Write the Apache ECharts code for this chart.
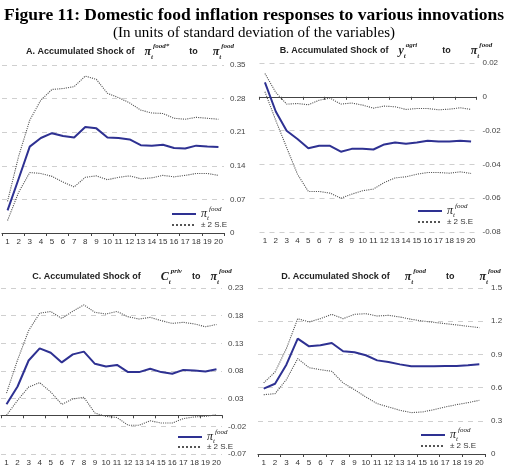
<!DOCTYPE html>
<html>
<head>
<meta charset="utf-8">
<script src="https://cdn.jsdelivr.net/npm/echarts@6/dist/echarts.min.js"></script>
<style>
  html, body { margin: 0; padding: 0; background: #fff; }
  #chart { width: 508px; height: 476px; }
</style>
</head>
<body>
<div id="chart"></div>
<script>
  // horizon 1..20
  const periods = ['1', '2', '3', '4', '5', '6', '7', '8', '9', '10', '11', '12', '13', '14', '15', '16', '17', '18', '19', '20']

  // A. shock of world food inflation
  const aMain = [0.047, 0.113, 0.180, 0.198, 0.208, 0.202, 0.199, 0.221, 0.218, 0.199, 0.198, 0.195, 0.183, 0.182, 0.184, 0.177, 0.176, 0.182, 0.180, 0.179]
  const aUpper = [0.066, 0.160, 0.235, 0.277, 0.299, 0.301, 0.305, 0.327, 0.320, 0.291, 0.282, 0.271, 0.256, 0.250, 0.249, 0.239, 0.237, 0.241, 0.239, 0.237]
  const aLower = [0.026, 0.085, 0.126, 0.124, 0.118, 0.106, 0.096, 0.116, 0.119, 0.111, 0.116, 0.119, 0.113, 0.115, 0.120, 0.117, 0.120, 0.124, 0.124, 0.120]

  // B. shock of agricultural output
  const bMain = [0.0085, -0.0087, -0.0201, -0.025, -0.0304, -0.029, -0.029, -0.0325, -0.0308, -0.0308, -0.0312, -0.0282, -0.027, -0.0278, -0.027, -0.026, -0.0264, -0.0264, -0.026, -0.0264]
  const bUpper = [0.0138, 0.0026, -0.0043, -0.004, -0.0047, -0.002, -0.0008, -0.0043, -0.0037, -0.0049, -0.0067, -0.0055, -0.0059, -0.0075, -0.0069, -0.0069, -0.0077, -0.0073, -0.0065, -0.0075]
  const bLower = [0.003, -0.014, -0.030, -0.0458, -0.056, -0.056, -0.057, -0.060, -0.0576, -0.0556, -0.0546, -0.0507, -0.048, -0.0473, -0.0458, -0.0448, -0.0448, -0.0452, -0.0444, -0.0454]

  // C. shock of private consumption
  const cMain = [0.0198, 0.052, 0.099, 0.121, 0.113, 0.0955, 0.110, 0.115, 0.093, 0.088, 0.091, 0.078, 0.078, 0.084, 0.078, 0.075, 0.082, 0.081, 0.079, 0.083]
  const cUpper = [0.040, 0.100, 0.153, 0.1845, 0.1875, 0.175, 0.188, 0.1995, 0.186, 0.183, 0.1875, 0.178, 0.174, 0.177, 0.171, 0.166, 0.168, 0.165, 0.160, 0.164]
  const cLower = [0.000, 0.027, 0.051, 0.059, 0.042, 0.0198, 0.0295, 0.0325, 0.004, -0.002, -0.004, -0.018, -0.018, -0.010, -0.014, -0.014, -0.006, -0.003, -0.002, 0.001]

  // D. own shock of domestic food inflation
  const dMain = [0.590, 0.635, 0.807, 1.042, 0.973, 0.982, 1.003, 0.928, 0.919, 0.892, 0.846, 0.831, 0.810, 0.792, 0.792, 0.792, 0.795, 0.795, 0.801, 0.810]
  const dUpper = [0.642, 0.741, 0.952, 1.223, 1.193, 1.223, 1.262, 1.223, 1.262, 1.268, 1.247, 1.253, 1.238, 1.217, 1.202, 1.190, 1.178, 1.166, 1.154, 1.142]
  const dLower = [0.536, 0.545, 0.672, 0.862, 0.780, 0.762, 0.747, 0.642, 0.581, 0.515, 0.455, 0.425, 0.395, 0.374, 0.380, 0.401, 0.425, 0.446, 0.464, 0.485]

  // y axis ranges
  const yMin = [0, -0.08, -0.07, 0]
  const yMax = [0.35, 0.02, 0.23, 1.5]
  const yStep = [0.07, 0.02, 0.05, 0.3]

  const mainColor = '#2e3192'
  const bandColor = '#555'

  const panels = [
    { key: 'A', main: aMain, upper: aUpper, lower: aLower, grid: { left: 2, top: 65, width: 222, height: 168 },
      title: '{b|A. Accumulated Shock of}  {m|π}{sb|t}{sp|food*}    {b|to}   {m|π}{sb|t}{sp|food}', tx: 125, ty: 38,
      leg: [171, 214, 226] },
    { key: 'B', main: bMain, upper: bUpper, lower: bLower, grid: { left: 259.5, top: 63, width: 217, height: 169 },
      title: '{b|B. Accumulated Shock of}  {m|y}{sb|t}{sp|agri}     {b|to}    {m|π}{sb|t}{sp|food}', tx: 381, ty: 37,
      leg: [417, 211, 223] },
    { key: 'C', main: cMain, upper: cUpper, lower: cLower, grid: { left: 1, top: 288, width: 221, height: 166 },
      title: '{b|C. Accumulated Shock of}    {m|C}{sb|t}{sp|priv}  {b|to}  {m|π}{sb|t}{sp|food}', tx: 127, ty: 263,
      leg: [177, 437, 448] },
    { key: 'D', main: dMain, upper: dUpper, lower: dLower, grid: { left: 258, top: 288, width: 227, height: 166 },
      title: '{b|D. Accumulated Shock of}   {m|π}{sb|t}{sp|food}    {b|to}     {m|π}{sb|t}{sp|food}', tx: 386, ty: 263,
      leg: [420, 435, 447] }
  ]

  const mathRich = {
    b: { fontFamily: 'Liberation Sans', fontWeight: 'bold', fontSize: 9, color: '#222', lineHeight: 16 },
    m: { fontFamily: 'Liberation Serif', fontStyle: 'italic', fontSize: 12, color: '#222', lineHeight: 16 },
    sp: { fontFamily: 'Liberation Serif', fontStyle: 'italic', fontSize: 7, color: '#222', lineHeight: 8, verticalAlign: 'top' },
    sb: { fontFamily: 'Liberation Serif', fontStyle: 'italic', fontSize: 7, color: '#222', lineHeight: 8, verticalAlign: 'bottom' }
  }

  function fmt(v) {
    if (Math.abs(v) < 1e-9) return '0'
    const r = Math.round(v * 100) / 100
    return r.toString()
  }

  const grids = []
  const xAxes = []
  const yAxes = []
  const series = []
  const legends = []
  const titles = [
    { text: 'Figure 11: Domestic food inflation responses to various innovations', left: 'center', top: 1,
      textStyle: { fontFamily: 'Liberation Serif', fontWeight: 'bold', fontSize: 17.5, color: '#000' } },
    { text: '(In units of standard deviation of the variables)', left: 'center', top: 21,
      textStyle: { fontFamily: 'Liberation Serif', fontWeight: 'normal', fontSize: 15, color: '#000' } }
  ]

  panels.forEach((p, i) => {
    grids.push(p.grid)
    // labelled axis at the bottom
    xAxes.push({
      type: 'category', gridIndex: i, data: periods, position: 'bottom',
      axisLine: { show: false, onZero: false },
      axisTick: { show: false },
      axisLabel: { fontFamily: 'Liberation Sans', fontSize: 8, color: '#333', margin: 5, interval: 0 }
    })
    // zero line with ticks
    xAxes.push({
      type: 'category', gridIndex: i, data: periods, position: 'top',
      axisLine: { show: true, onZero: true, lineStyle: { color: '#444', width: 1.2 } },
      axisTick: { show: true, inside: true, length: 3, lineStyle: { color: '#444' } },
      axisLabel: { show: false }
    })
    yAxes.push({
      type: 'value', gridIndex: i, position: 'right',
      min: yMin[i], max: yMax[i], interval: yStep[i],
      axisLine: { show: false }, axisTick: { show: false },
      axisLabel: { fontFamily: 'Liberation Sans', fontSize: 8, color: '#444', margin: 6, formatter: fmt },
      splitLine: { show: true, lineStyle: { color: '#cfcfcf', type: [5, 5], width: 1 } }
    })
    series.push({
      name: 'main' + p.key, type: 'line', xAxisIndex: 2 * i, yAxisIndex: i, data: p.main,
      symbol: 'none', z: 4, lineStyle: { color: mainColor, width: 2 }, itemStyle: { color: mainColor }
    })
    series.push({
      name: 'se' + p.key, type: 'line', xAxisIndex: 2 * i, yAxisIndex: i, data: p.upper,
      symbol: 'none', z: 3, lineStyle: { color: bandColor, width: 1.1, type: 'dotted' }, itemStyle: { color: bandColor }
    })
    series.push({
      name: 'seLow' + p.key, type: 'line', xAxisIndex: 2 * i, yAxisIndex: i, data: p.lower,
      symbol: 'none', z: 3, lineStyle: { color: bandColor, width: 1.1, type: 'dotted' }, itemStyle: { color: bandColor }
    })
    titles.push({
      text: p.title, left: p.tx, top: p.ty, textAlign: 'center',
      textStyle: { rich: mathRich }
    })
    legends.push({
      data: ['main' + p.key], left: p.leg[0], top: p.leg[1] - 8, itemWidth: 24, itemHeight: 10, itemGap: 0,
      padding: 0, selectedMode: false, itemStyle: { opacity: 0 },
      formatter: () => '{m|π}{sb|t}{sp|food}',
      textStyle: { rich: mathRich }
    })
    legends.push({
      data: ['se' + p.key], left: p.leg[0], top: p.leg[2] - 5, itemWidth: 24, itemHeight: 10, itemGap: 0,
      padding: 0, selectedMode: false, itemStyle: { opacity: 0 },
      formatter: () => '± 2 S.E',
      textStyle: { fontFamily: 'Liberation Sans', fontSize: 8, color: '#333' }
    })
  })

  const myChart = echarts.init(document.getElementById('chart'))
  myChart.setOption({
    animation: false,
    backgroundColor: '#fff',
    title: titles,
    legend: legends,
    grid: grids,
    xAxis: xAxes,
    yAxis: yAxes,
    series: series
  })
</script>
</body>
</html>
